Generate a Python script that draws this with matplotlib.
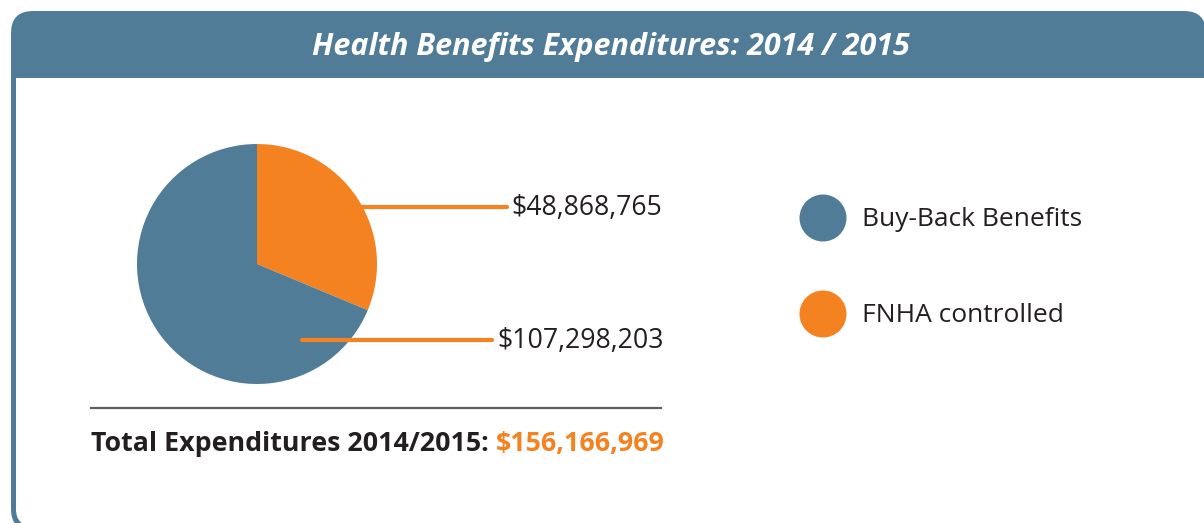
import matplotlib
matplotlib.use('Agg')
import matplotlib.pyplot as plt
from matplotlib.patches import FancyBboxPatch, Rectangle, Circle

plt.rcParams['font.family'] = ['Open Sans', 'DejaVu Sans']

# data
title = 'Health Benefits Expenditures: 2014 / 2015'
categories = ['Buy-Back Benefits', 'FNHA controlled']
amounts = [107298203, 48868765]
total_amount = 156166969
total_label = 'Total Expenditures 2014/2015: '

blue = '#517c98'
orange = '#f58220'
dark = '#231f20'

W, H = 1204, 523
fig = plt.figure(figsize=(W/100, H/100), dpi=100)
ax = fig.add_axes([0, 0, 1, 1])

# pie: orange wedge starts at 12 o'clock going clockwise
cx, cy, r = 257, H-264, 120
ax.pie([amounts[1], amounts[0]], colors=[orange, blue], startangle=90,
       counterclock=False, center=(cx, cy), radius=r,
       wedgeprops=dict(linewidth=0))

ax.set_xlim(0, W)
ax.set_ylim(0, H)
ax.set_aspect('equal')
ax.axis('off')

# frame + header (right and bottom edges run off the image)
ax.add_patch(FancyBboxPatch((11, H-531), 1195, 520,
             boxstyle='round,pad=0,rounding_size=22', fc=blue, ec='none', zorder=0))
ax.add_patch(FancyBboxPatch((16, H-526), 1200, 448,
             boxstyle='round,pad=0,rounding_size=17', fc='white', ec='none', zorder=0))
ax.add_patch(Rectangle((16, H-110), 1200, 32, fc='white', ec='none', zorder=0))
ax.text(611, H-47, title, color='white', fontsize=22, fontweight='bold',
        fontstyle='italic', ha='center', va='center')

# leader lines + value labels
fs = 19.2
ax.plot([362, 507], [H-207, H-207], color=orange, lw=3, solid_capstyle='round', zorder=3)
ax.text(511, H-208, '${:,}'.format(amounts[1]), color=dark, fontsize=fs,
        ha='left', va='center')
ax.plot([302, 492], [H-340, H-340], color=orange, lw=3, solid_capstyle='round', zorder=3)
ax.text(497, H-341, '${:,}'.format(amounts[0]), color=dark, fontsize=fs,
        ha='left', va='center')

# legend
for i, (lab, col) in enumerate(zip(categories, [blue, orange])):
    y = H - (218 + 96*i)
    ax.add_patch(Circle((823, y), 23.5, fc=col, ec='none'))
    ax.text(862, y - 1, lab, color=dark, fontsize=19, ha='left', va='center')

# total
ax.plot([91, 661], [H-408, H-408], color='#5f5f5f', lw=1.6)
t1 = ax.text(91, H-444, total_label, color=dark, fontsize=19.3, fontweight='bold',
             ha='left', va='center')
ax.annotate('${:,}'.format(total_amount), xy=(1, 0), xycoords=t1,
            color=orange, fontsize=19.3, fontweight='bold', ha='left', va='bottom')

fig.savefig('out.png', dpi=100)
